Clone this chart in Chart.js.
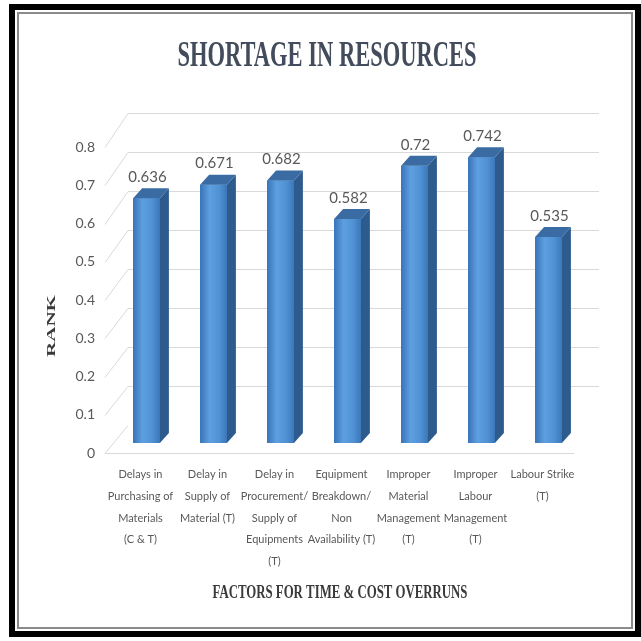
<!DOCTYPE html>
<html>
<head>
<meta charset="utf-8">
<title>Shortage in Resources</title>
<script src="https://cdn.jsdelivr.net/npm/chart.js@4.4.1/dist/chart.umd.min.js"></script>
<style>
  html, body { margin: 0; padding: 0; background: #fff; }
  #wrap { position: relative; width: 641px; height: 641px; }
  #frame { position: absolute; left: 9px; top: 4px; width: 620px; height: 621px;
           border: 6px solid #000; pointer-events: none; }
  #frame2 { position: absolute; left: 2px; top: 2px; right: 2px; bottom: 2px;
            border: 2px solid #8a8a8a; }
</style>
</head>
<body>
<div id="wrap">
  <canvas id="rank-chart" width="641" height="641"></canvas>
  <div id="frame"><div id="frame2"></div></div>
</div>
<script>
// data
var categories = [
  ["Delays in", "Purchasing of", "Materials", "(C & T)"],
  ["Delay in", "Supply of", "Material (T)"],
  ["Delay in", "Procurement/", "Supply of", "Equipments", "(T)"],
  ["Equipment", "Breakdown/", "Non", "Availability (T)"],
  ["Improper", "Material", "Management", "(T)"],
  ["Improper", "Labour", "Management", "(T)"],
  ["Labour Strike", "(T)"]
];
var rankValues = [0.636, 0.671, 0.682, 0.582, 0.72, 0.742, 0.535];
var yMin = 0, yMax = 0.8, yStep = 0.1;

var chartTitle = "SHORTAGE IN RESOURCES";
var xTitle = "FACTORS FOR TIME & COST OVERRUNS";
var yTitle = "RANK";

var sans = "Lato, 'DejaVu Sans Condensed', sans-serif";
var serif = "'Liberation Serif', 'DejaVu Serif', serif";

// fake 3d depth of the bars / walls
var depthX = 9, depthY = -10;

// back wall grid + floor edge
var wallPlugin = {
  id: 'wall',
  beforeDatasetsDraw: function(chart) {
    var ctx = chart.ctx, area = chart.chartArea;
    var yF = chart.scales.y, yW = chart.scales.yw;
    var frontLeft = area.left - 8, backLeft = area.left + 15, backRight = area.right + 17;
    ctx.save();
    ctx.strokeStyle = '#d9d9d9';
    ctx.lineWidth = 1;
    for (var v = yMin; v <= yMax + 1e-9; v += yStep) {
      var yf = Math.round(yF.getPixelForValue(v)) + 0.5;
      var yw = Math.round(yW.getPixelForValue(v)) + 0.5;
      ctx.beginPath();
      ctx.moveTo(frontLeft, yf);
      ctx.lineTo(backLeft, yw);
      if (v > 1e-9) ctx.lineTo(backRight, yw);
      ctx.stroke();
    }
    // floor front edge
    var y0 = Math.round(yF.getPixelForValue(0)) + 0.5;
    ctx.beginPath();
    ctx.moveTo(frontLeft, y0);
    ctx.lineTo(area.right - 8, y0);
    ctx.stroke();
    ctx.restore();
  }
};

var bar3dPlugin = {
  id: 'bar3d',
  afterDatasetsDraw: function(chart) {
    var ctx = chart.ctx;
    var meta = chart.getDatasetMeta(0);
    ctx.save();
    meta.data.forEach(function(bar, i) {
      var p = bar.getProps(['x', 'y', 'base', 'width'], true);
      var l = p.x - p.width / 2, r = p.x + p.width / 2;
      // front face
      var g = ctx.createLinearGradient(l, 0, r, 0);
      g.addColorStop(0, '#3873b8');
      g.addColorStop(0.35, '#5e9fe0');
      g.addColorStop(0.7, '#5192d5');
      g.addColorStop(1, '#3b77bb');
      ctx.fillStyle = g;
      ctx.fillRect(l, p.y, p.width, p.base - p.y);
      // side face
      ctx.fillStyle = '#2d5b8e';
      ctx.beginPath();
      ctx.moveTo(r, p.y);
      ctx.lineTo(r + depthX, p.y + depthY);
      ctx.lineTo(r + depthX, p.base + depthY);
      ctx.lineTo(r, p.base);
      ctx.closePath();
      ctx.fill();
      // top face
      ctx.fillStyle = '#3a6ba2';
      ctx.beginPath();
      ctx.moveTo(l, p.y);
      ctx.lineTo(r, p.y);
      ctx.lineTo(r + depthX, p.y + depthY);
      ctx.lineTo(l + depthX, p.y + depthY);
      ctx.closePath();
      ctx.fill();
      // value label
      ctx.fillStyle = '#595959';
      ctx.font = '15px ' + sans;
      ctx.textAlign = 'center';
      ctx.textBaseline = 'middle';
      ctx.fillText(String(rankValues[i]), p.x + 1, p.y - 21);
    });
    ctx.restore();
  }
};

// squeezed serif texts (title + axis titles)
function squeezedText(ctx, text, font, cx, cy, width, rot) {
  ctx.save();
  ctx.font = font;
  var w = ctx.measureText(text).width;
  ctx.translate(cx, cy);
  if (rot) ctx.rotate(rot);
  ctx.scale(width / w, 1);
  ctx.textAlign = 'center';
  ctx.textBaseline = 'middle';
  ctx.fillText(text, 0, 0);
  ctx.restore();
}

var titlesPlugin = {
  id: 'titles',
  afterDraw: function(chart) {
    var ctx = chart.ctx;
    ctx.fillStyle = '#434c5c';
    squeezedText(ctx, chartTitle, 'bold 36px ' + serif, 327, 57, 299, 0);
    ctx.fillStyle = '#3a3a3a';
    squeezedText(ctx, xTitle, 'bold 19px ' + serif, 340, 593, 255, 0);
    squeezedText(ctx, yTitle, 'bold 13px ' + serif, 52, 326, 62, -Math.PI / 2);
  }
};

var ctx = document.getElementById('rank-chart').getContext('2d');
var chart = new Chart(ctx, {
  type: 'bar',
  data: {
    labels: categories,
    datasets: [{
      label: 'Rank',
      data: rankValues,
      yAxisID: 'yb',
      backgroundColor: '#4f8fd4',
      barPercentage: 0.4,
      categoryPercentage: 1
    }]
  },
  options: {
    responsive: false,
    animation: false,
    devicePixelRatio: 1,
    layout: { padding: { top: 147, right: 59, bottom: 0, left: 0 } },
    plugins: {
      legend: { display: false },
      tooltip: { enabled: false }
    },
    scales: {
      x: {
        grid: { display: false, drawTicks: false },
        border: { display: false },
        ticks: {
          color: '#595959',
          font: { family: sans, size: 11, lineHeight: 1.97 },
          padding: 11,
          labelOffset: -6,
          maxRotation: 0,
          autoSkip: false
        },
        afterFit: function(s) { s.height = 188; }
      },
      y: {
        min: yMin,
        max: yMax,
        grid: { display: false, drawTicks: false },
        border: { display: false },
        ticks: {
          stepSize: yStep,
          color: '#595959',
          font: { family: sans, size: 14 },
          padding: 18,
          callback: function(v) { return String(+v.toFixed(1)); }
        },
        afterFit: function(s) { s.width = 113; }
      },
      // bars sit a bit further back than the front labels
      yb: { display: false, min: -0.026, max: 0.7688 },
      // back wall
      yw: { display: false, min: -0.0718, max: 0.7128 }
    }
  },
  plugins: [wallPlugin, bar3dPlugin, titlesPlugin]
});
</script>
</body>
</html>
